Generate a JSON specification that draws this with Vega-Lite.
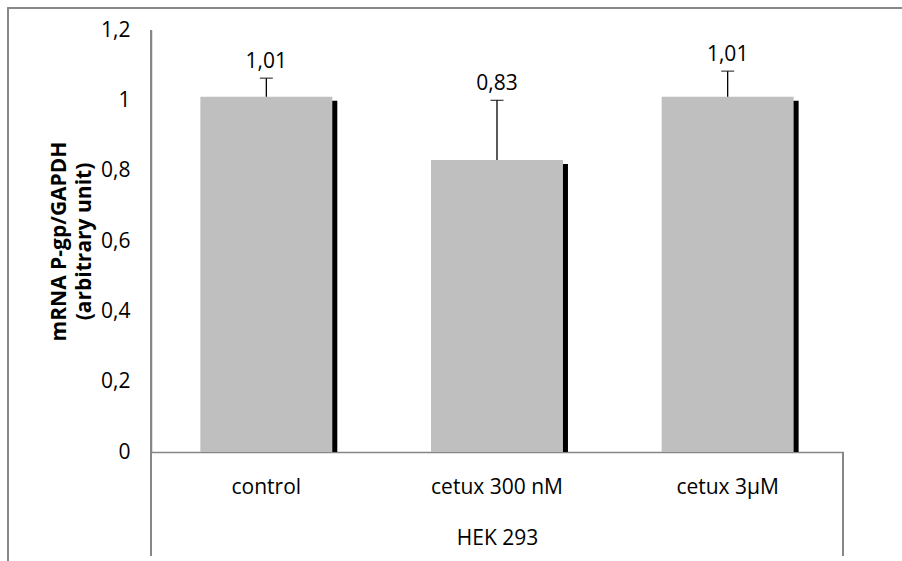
{
  "$schema": "https://vega.github.io/schema/vega-lite/v6.json",
  "width": 692,
  "height": 422,
  "autosize": {"type": "none"},
  "padding": {"left": 151, "top": 30, "right": 59, "bottom": 109},
  "background": "white",
  "config": {
    "view": {"stroke": null},
    "font": "Open Sans",
    "locale": {"number": {"decimal": ",", "thousands": " ", "grouping": [3], "currency": ["", " €"]}}
  },
  "data": {
    "values": [
      {"group": "control", "value": 1.01, "upper": 1.063},
      {"group": "cetux 300 nM", "value": 0.83, "upper": 1.0},
      {"group": "cetux 3µM", "value": 1.01, "upper": 1.083}
    ]
  },
  "encoding": {
    "x": {
      "field": "group",
      "type": "nominal",
      "sort": null,
      "scale": {"paddingInner": 0.428, "paddingOuter": 0.214},
      "axis": {
        "title": "HEK 293",
        "titleFont": "Open Sans",
        "titleFontSize": 21,
        "titleFontWeight": "normal",
        "titleColor": "#000000",
        "titlePadding": 30,
        "labelFont": "Open Sans",
        "labelFontSize": 21,
        "labelColor": "#000000",
        "labelAngle": 0,
        "labelPadding": 24,
        "ticks": false,
        "tickSize": 0,
        "domainColor": "#868686",
        "domainWidth": 1.5,
        "grid": false
      }
    }
  },
  "layer": [
    {
      "mark": {"type": "rect", "fill": null, "stroke": "#868686", "strokeWidth": 1.5},
      "encoding": {
        "x": {"value": -143},
        "x2": {"value": 780},
        "y": {"value": -22},
        "y2": {"value": 620}
      }
    },
    {
      "mark": {"type": "rule", "color": "#868686", "strokeWidth": 1.5},
      "encoding": {
        "x": {"value": 0},
        "y": {"value": 0},
        "y2": {"value": 526}
      }
    },
    {
      "mark": {"type": "rule", "color": "#868686", "strokeWidth": 1.5},
      "encoding": {
        "x": {"value": 692},
        "y": {"value": 422},
        "y2": {"value": 526}
      }
    },
    {
      "mark": {"type": "bar", "color": "#000000", "xOffset": 5, "yOffset": 4, "y2Offset": 0},
      "encoding": {
        "y": {
          "field": "value",
          "type": "quantitative",
          "stack": null,
          "scale": {"domain": [0, 1.2], "nice": false},
          "axis": {
            "title": ["mRNA P-gp/GAPDH", "(arbitrary unit)"],
            "titleFont": "Open Sans",
            "titleFontSize": 21,
            "titleFontWeight": "bold",
            "titleColor": "#000000",
            "titlePadding": 6,
            "titleLineHeight": 25,
            "values": [0, 0.2, 0.4, 0.6, 0.8, 1, 1.2],
            "format": ".1~f",
            "labelFont": "Open Sans",
            "labelFontSize": 21,
            "labelColor": "#000000",
            "labelPadding": 21,
            "ticks": false,
            "tickSize": 0,
            "grid": false,
            "domainColor": "#868686",
            "domainWidth": 1.5
          }
        },
        "y2": {"datum": 0}
      }
    },
    {
      "mark": {"type": "bar", "color": "#BFBFBF"},
      "encoding": {
        "y": {"field": "value", "type": "quantitative"}
      }
    },
    {
      "mark": {"type": "rule", "color": "#000000", "strokeWidth": 1.3},
      "encoding": {
        "y": {"field": "value", "type": "quantitative"},
        "y2": {"field": "upper"}
      }
    },
    {
      "mark": {"type": "tick", "color": "#000000", "thickness": 1.3, "size": 13, "orient": "horizontal"},
      "encoding": {
        "y": {"field": "upper", "type": "quantitative"}
      }
    },
    {
      "mark": {"type": "text", "baseline": "bottom", "dy": -6, "fontSize": 21, "font": "Open Sans", "color": "#000000"},
      "encoding": {
        "y": {"field": "upper", "type": "quantitative"},
        "text": {"field": "value", "type": "quantitative", "format": ".2f"}
      }
    }
  ]
}
